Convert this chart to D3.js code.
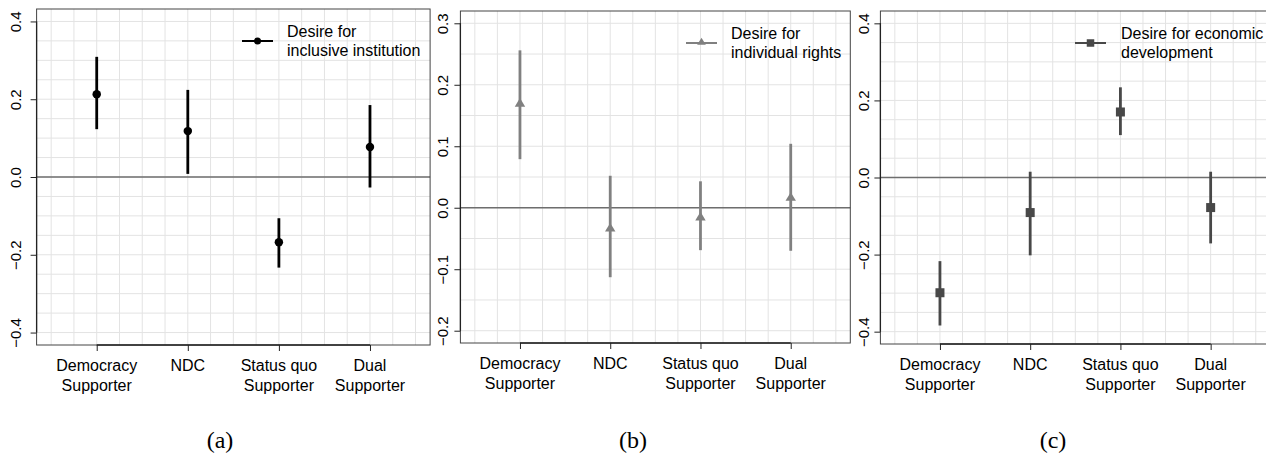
<!DOCTYPE html>
<html>
<head>
<meta charset="utf-8">
<script src="https://cdn.jsdelivr.net/npm/d3@7/dist/d3.min.js"></script>
<style>
  html, body { margin: 0; padding: 0; background: #fff; }
  svg { display: block; }
  .lab { font-family: "Liberation Sans", Arial, sans-serif; fill: #000; }
  .cap { font-family: "Liberation Serif", "Times New Roman", serif; fill: #000; }
</style>
</head>
<body>
<svg id="chart" width="1266" height="456"></svg>
<script>
// categories on the x axis (two-line labels)
const categories = [["Democracy", "Supporter"], ["NDC"], ["Status quo", "Supporter"], ["Dual", "Supporter"]];

// (a) desire for inclusive institution
const inclusiveEst  = [0.213, 0.118, -0.168, 0.077];
const inclusiveLow  = [0.123, 0.008, -0.233, -0.027];
const inclusiveHigh = [0.309, 0.224, -0.106, 0.185];

// (b) desire for individual rights
const rightsEst  = [0.170, -0.033, -0.015, 0.017];
const rightsLow  = [0.079, -0.113, -0.069, -0.070];
const rightsHigh = [0.256, 0.052, 0.043, 0.104];

// (c) desire for economic development
const econEst  = [-0.299, -0.091, 0.170, -0.078];
const econLow  = [-0.384, -0.202, 0.110, -0.171];
const econHigh = [-0.217, 0.015, 0.234, 0.015];

// tick labels
const ticksAC = [-0.4, -0.2, 0.0, 0.2, 0.4];
const ticksB  = [-0.2, -0.1, 0.0, 0.1, 0.2, 0.3];
const captions = ["(a)", "(b)", "(c)"];
const legendLabels = [["Desire for", "inclusive institution"], ["Desire for", "individual rights"], ["Desire for economic", "development"]];

const svg = d3.select("#chart");

// panel layout (pixels) and styling
const panels = [
  { est: inclusiveEst, low: inclusiveLow, high: inclusiveHigh, ticks: ticksAC, ylim: [-0.4, 0.4],
    box: [36.6, 9, 430.1, 345], color: "#000", shape: "circle", tickGap: 16,
    legend: { x1: 242, x2: 273, y: 41, tx: 287, ty: 37 }, capX: 220 },
  { est: rightsEst, low: rightsLow, high: rightsHigh, ticks: ticksB, ylim: [-0.2, 0.3],
    box: [460.4, 11, 850.3, 343], color: "#808080", shape: "triangle", tickGap: 12,
    legend: { x1: 686, x2: 717, y: 43, tx: 731, ty: 39 }, capX: 633 },
  { est: econEst, low: econLow, high: econHigh, ticks: ticksAC, ylim: [-0.4, 0.4],
    box: [880.4, 11, 1270.2, 344], color: "#484848", shape: "square", tickGap: 11,
    legend: { x1: 1075, x2: 1106, y: 43, tx: 1121, ty: 39 }, capX: 1053 }
];

function drawMarker(g, shape, x, y, s, color) {
  if (shape === "circle") {
    g.append("circle").attr("cx", x).attr("cy", y).attr("r", s * 0.47).attr("fill", color);
  } else if (shape === "triangle") {
    const h = s * 0.95;
    g.append("path")
      .attr("d", `M${x},${y - h * 0.6}L${x + s * 0.58},${y + h * 0.4}L${x - s * 0.58},${y + h * 0.4}Z`)
      .attr("fill", color);
  } else {
    g.append("rect").attr("x", x - s / 2).attr("y", y - s / 2).attr("width", s).attr("height", s).attr("fill", color);
  }
}

panels.forEach((p, i) => {
  const [x0, y0, x1, y1] = p.box;
  const g = svg.append("g");

  // R style: xlim 0.5..4.5 and ylim expanded by 4%
  const xPad = 4 * 0.04, yPad = (p.ylim[1] - p.ylim[0]) * 0.04;
  const x = d3.scaleLinear().domain([0.5 - xPad, 4.5 + xPad]).range([x0, x1]);
  const y = d3.scaleLinear().domain([p.ylim[0] - yPad, p.ylim[1] + yPad]).range([y1, y0]);

  // grid
  const gx = d3.range(0.5, 4.5001, 0.25);
  const gy = d3.range(Math.round(p.ylim[0] * 20), Math.round(p.ylim[1] * 20) + 1).map(v => v / 20);
  g.selectAll(".gx").data(gx).enter().append("line")
    .attr("x1", d => x(d)).attr("x2", d => x(d)).attr("y1", y0).attr("y2", y1)
    .attr("stroke", "#e3e3e3").attr("stroke-width", 1);
  g.selectAll(".gy").data(gy).enter().append("line")
    .attr("x1", x0).attr("x2", x1).attr("y1", d => y(d)).attr("y2", d => y(d))
    .attr("stroke", "#e3e3e3").attr("stroke-width", 1);

  // zero reference line
  g.append("line").attr("x1", x0).attr("x2", x1).attr("y1", y(0)).attr("y2", y(0))
    .attr("stroke", "#6e6e6e").attr("stroke-width", 1.5);

  // box
  g.append("rect").attr("x", x0).attr("y", y0).attr("width", x1 - x0).attr("height", y1 - y0)
    .attr("fill", "none").attr("stroke", "#444").attr("stroke-width", 1);

  // y axis
  const yAxis = g.append("g").attr("transform", `translate(${x0},0)`)
    .call(d3.axisLeft(y).tickValues(p.ticks).tickSize(6).tickSizeOuter(0).tickFormat(d3.format(".1f")));
  yAxis.select(".domain").attr("d", `M0,${y(p.ticks[0])}V${y(p.ticks[p.ticks.length - 1])}`)
    .attr("stroke", "#222").attr("stroke-width", 1.3);
  yAxis.selectAll(".tick line").attr("stroke", "#222");
  yAxis.selectAll(".tick text")
    .attr("class", "lab").attr("font-size", 15).attr("text-anchor", "middle")
    .attr("x", null).attr("dy", null)
    .attr("transform", `translate(${-p.tickGap},0) rotate(-90)`);

  // x axis
  const xAxis = g.append("g").attr("transform", `translate(0,${y1})`)
    .call(d3.axisBottom(x).tickValues([1, 2, 3, 4]).tickSize(6).tickSizeOuter(0).tickFormat(""));
  xAxis.select(".domain").attr("d", `M${x(1)},0H${x(4)}`).attr("stroke", "#222").attr("stroke-width", 1.5);
  xAxis.selectAll(".tick line").attr("stroke", "#222");

  categories.forEach((lines, k) => {
    const t = g.append("text").attr("class", "lab").attr("font-size", 16).attr("text-anchor", "middle");
    lines.forEach((ln, j) => {
      t.append("tspan").attr("x", x(k + 1)).attr("y", y1 + 26 + j * 20).text(ln);
    });
  });

  // error bars and point estimates
  g.selectAll(".ci").data(p.est).enter().append("line")
    .attr("x1", (d, k) => x(k + 1)).attr("x2", (d, k) => x(k + 1))
    .attr("y1", (d, k) => y(p.low[k])).attr("y2", (d, k) => y(p.high[k]))
    .attr("stroke", p.color).attr("stroke-width", 2.8);
  p.est.forEach((d, k) => drawMarker(g, p.shape, x(k + 1), y(d), 9, p.color));

  // legend
  const L = p.legend;
  g.append("line").attr("x1", L.x1).attr("x2", L.x2).attr("y1", L.y).attr("y2", L.y)
    .attr("stroke", p.color).attr("stroke-width", 2);
  drawMarker(g, p.shape, (L.x1 + L.x2) / 2, L.y - (p.shape === "triangle" ? 1 : 0), p.shape === "circle" ? 7.5 : 7.5, p.color);
  const lt = g.append("text").attr("class", "lab").attr("font-size", 16);
  legendLabels[i].forEach((ln, j) => {
    lt.append("tspan").attr("x", L.tx).attr("y", L.ty + j * 19).text(ln);
  });

  // caption
  svg.append("text").attr("class", "cap").attr("font-size", 24).attr("text-anchor", "middle")
    .attr("x", p.capX).attr("y", 448).text(captions[i]);
});
</script>
</body>
</html>
